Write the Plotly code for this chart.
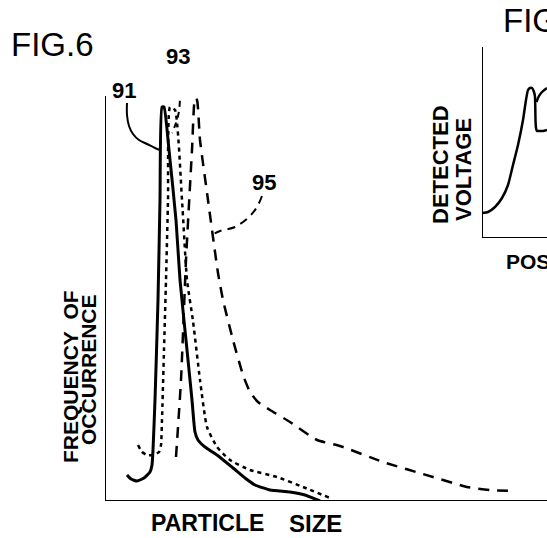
import plotly.graph_objects as go

W, H = 547, 538

# ---- FIG.6 data (arbitrary units: particle size vs frequency of occurrence) ----
c91_x = [22, 26, 32, 39, 45, 47, 48, 50, 53, 55, 57, 59, 64, 71, 75, 82, 87, 90, 93, 100, 112, 128, 140, 150, 165, 185, 200, 215]
c91_y = [26, 22, 20, 23, 29, 36, 51, 101, 201, 301, 394, 394, 351, 281, 221, 151, 101, 69, 61, 54, 46, 33, 23, 16, 11, 9, 6, 0]

c93_x = [33, 37, 42, 48, 54, 56, 57, 59, 61, 63, 65, 70, 77, 82, 88, 95, 102, 112, 125, 145, 172, 198, 225]
c93_y = [56, 49, 46, 46, 49, 56, 81, 151, 221, 301, 394, 391, 301, 221, 180, 121, 74, 54, 41, 31, 24, 14, 3]

c95_x = [71, 76, 81, 87, 90, 92, 95, 103, 113, 118, 128, 138, 145, 153, 165, 185, 212, 235, 278, 328, 362, 385, 408]
c95_y = [44, 121, 241, 351, 403, 401, 361, 301, 228, 201, 161, 126, 109, 99, 91, 79, 61, 55, 39, 24, 14, 11, 10]

# leader lines (same units)
lead91_x = [22, 22, 24, 28, 34, 42, 50, 55]
lead91_y = [398, 386, 375, 367, 361, 357, 353, 351]
lead93_x = [72, 74, 75, 74, 71, 67]
lead93_y = [433, 420, 408, 390, 378, 368]
lead95_x = [157, 152, 144, 130, 115, 107]
lead95_y = [305, 294, 284, 274, 270, 266]

# ---- FIG.7 data (position vs detected voltage) ----
v_x = [0, 6, 13, 20, 26, 31, 36, 41, 44, 46, 48, 50, 52, 53, 53.5, 54, 55, 57, 61, 65]
v_y = [25, 26, 31, 40, 53, 73, 93, 118, 138, 148, 150, 150, 146, 141, 118, 110, 107, 107, 107, 108]
v2_x = [54.5, 57, 60, 65]
v2_y = [136, 142, 146, 150]

fig = go.Figure()

ink = "black"
fig.add_trace(go.Scatter(x=c91_x, y=c91_y, mode="lines", line=dict(color=ink, width=3, shape="spline", smoothing=0.5), xaxis="x", yaxis="y"))
fig.add_trace(go.Scatter(x=c93_x, y=c93_y, mode="lines", line=dict(color=ink, width=2.5, dash="4px,4px", shape="spline", smoothing=0.5), xaxis="x", yaxis="y"))
fig.add_trace(go.Scatter(x=c95_x, y=c95_y, mode="lines", line=dict(color=ink, width=2.5, dash="11px,8px", shape="spline", smoothing=0.5), xaxis="x", yaxis="y"))
fig.add_trace(go.Scatter(x=lead91_x, y=lead91_y, mode="lines", line=dict(color=ink, width=2, shape="spline"), xaxis="x", yaxis="y"))
fig.add_trace(go.Scatter(x=lead93_x, y=lead93_y, mode="lines", line=dict(color=ink, width=2, dash="6px,5px", shape="spline"), xaxis="x", yaxis="y"))
fig.add_trace(go.Scatter(x=lead95_x, y=lead95_y, mode="lines", line=dict(color=ink, width=2, dash="8px,6px", shape="spline"), xaxis="x", yaxis="y"))

fig.add_trace(go.Scatter(x=v_x, y=v_y, mode="lines", line=dict(color=ink, width=2.5, shape="spline", smoothing=0.5), xaxis="x2", yaxis="y2"))
fig.add_trace(go.Scatter(x=v2_x, y=v2_y, mode="lines", line=dict(color=ink, width=2.5, shape="spline"), xaxis="x2", yaxis="y2"))


def px(x):
    return x / W


def py(y):
    return 1 - y / H


axis_common = dict(showgrid=False, zeroline=False, showticklabels=False, ticks="", showline=False)

fig.update_layout(
    width=W, height=H,
    margin=dict(l=0, r=0, t=0, b=0),
    paper_bgcolor="white", plot_bgcolor="white",
    showlegend=False,
    hovermode=False,
    xaxis=dict(domain=[px(105), 1], range=[0, 442], anchor="y", **axis_common),
    yaxis=dict(domain=[py(501), py(96)], range=[0, 405], anchor="x", **axis_common),
    xaxis2=dict(domain=[px(482), 1], range=[0, 65], anchor="y2", **axis_common),
    yaxis2=dict(domain=[py(238), py(47)], range=[0, 191], anchor="x2", **axis_common),
)

# axis lines
fig.add_shape(type="line", xref="x", yref="y", x0=0, x1=0, y0=0, y1=405, line=dict(color=ink, width=2))
fig.add_shape(type="line", xref="x", yref="y", x0=-3, x1=442, y0=0, y1=0, line=dict(color=ink, width=2))
fig.add_shape(type="line", xref="x2", yref="y2", x0=0, x1=0, y0=0, y1=191, line=dict(color=ink, width=2))
fig.add_shape(type="line", xref="x2", yref="y2", x0=0, x1=65, y0=0, y1=0, line=dict(color=ink, width=2))


def ann(text, x, y, size, bold=True, angle=0, xanchor="center"):
    fam = "Liberation Sans, Arial, sans-serif"
    t = f"<b>{text}</b>" if bold else text
    fig.add_annotation(text=t, x=px(x), y=py(y), xref="paper", yref="paper",
                       showarrow=False, xanchor=xanchor, yanchor="middle", textangle=angle,
                       font=dict(family=fam, size=size, color=ink))


ann("FIG.6", 9, 44, 33, bold=False, xanchor="left")
ann("93", 178, 56, 22)
ann("91", 124, 91, 22)
ann("95", 264, 182, 22)
ann("PARTICLE", 149, 523, 23, xanchor="left")
ann("SIZE", 287, 523, 24, xanchor="left")
ann("FREQUENCY&nbsp;&nbsp;OF", 70, 377, 21, angle=-90)
ann("OCCURRENCE", 88, 370, 21, angle=-90)

ann("FIG", 501, 20, 33, bold=False, xanchor="left")
ann("POS", 504, 261, 21, xanchor="left")
ann("DETECTED", 440, 165, 22, angle=-90)
ann("VOLTAGE", 463, 170, 22, angle=-90)

fig.write_html(
    "out.html",
    config={"displayModeBar": False, "staticPlot": True},
    post_script="document.body.style.margin='0';document.body.style.overflow='hidden';",
)
